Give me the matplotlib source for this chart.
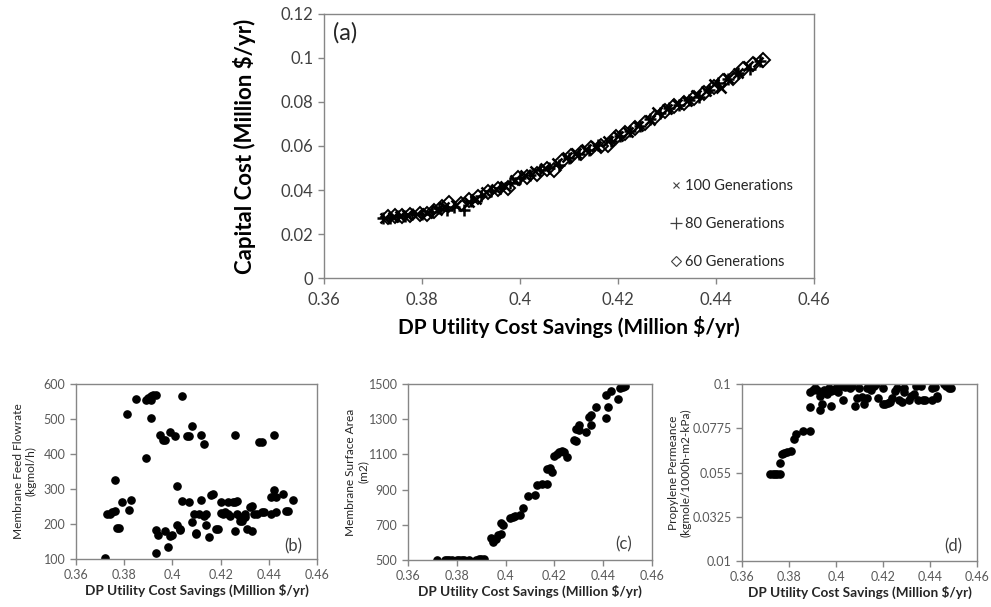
import matplotlib
matplotlib.use("Agg")
import matplotlib.pyplot as plt
from matplotlib.lines import Line2D

plt.rcParams['font.family'] = ['Lato', 'DejaVu Sans']

# ---------------- data ----------------
# (a) Pareto fronts: DP utility cost savings vs capital cost
gen100_x = [0.3725, 0.374, 0.3755, 0.377, 0.379, 0.381, 0.383, 0.3845, 0.387, 0.3895, 0.391,
            0.393, 0.395, 0.397, 0.399, 0.401, 0.403, 0.405, 0.4075, 0.4095, 0.4115, 0.4135,
            0.4155, 0.418, 0.420, 0.422, 0.424, 0.4265, 0.428, 0.430, 0.432, 0.434, 0.436,
            0.438, 0.4395, 0.441, 0.4425, 0.4445, 0.4465, 0.4485]
gen100_y = [0.0275, 0.0278, 0.028, 0.0285, 0.029, 0.0295, 0.031, 0.0325, 0.033, 0.0345, 0.036,
            0.039, 0.0405, 0.042, 0.0445, 0.047, 0.0485, 0.050, 0.0525, 0.055, 0.057, 0.0585,
            0.060, 0.0625, 0.0645, 0.0665, 0.069, 0.072, 0.0755, 0.077, 0.079, 0.0805, 0.083,
            0.085, 0.088, 0.0865, 0.091, 0.093, 0.0965, 0.098]
gen80_x = [0.372, 0.3735, 0.375, 0.3765, 0.378, 0.380, 0.382, 0.3835, 0.385, 0.3865, 0.3885,
           0.390, 0.392, 0.394, 0.396, 0.398, 0.400, 0.402, 0.404, 0.406, 0.408, 0.410,
           0.412, 0.414, 0.416, 0.4185, 0.4205, 0.4225, 0.4245, 0.4265, 0.4285, 0.4305,
           0.4325, 0.4345, 0.4365, 0.4385, 0.4405, 0.4425, 0.4445, 0.447, 0.449]
gen80_y = [0.0275, 0.0272, 0.028, 0.0283, 0.029, 0.0292, 0.030, 0.032, 0.031, 0.0325, 0.031,
           0.035, 0.0375, 0.0395, 0.041, 0.043, 0.0455, 0.047, 0.049, 0.050, 0.0515, 0.0545,
           0.0565, 0.058, 0.0605, 0.0625, 0.0645, 0.067, 0.069, 0.0725, 0.075, 0.0775,
           0.0785, 0.081, 0.0825, 0.0855, 0.0885, 0.0905, 0.093, 0.095, 0.0985]
gen60_x = [0.373, 0.3745, 0.376, 0.3775, 0.3795, 0.381, 0.3825, 0.384, 0.3855, 0.388, 0.3895,
           0.3915, 0.3935, 0.3955, 0.3975, 0.3995, 0.4015, 0.4035, 0.4055, 0.407, 0.4085,
           0.4105, 0.4125, 0.4145, 0.4165, 0.418, 0.4195, 0.4215, 0.4235, 0.4255, 0.4275,
           0.4295, 0.4315, 0.4335, 0.4355, 0.4375, 0.4395, 0.4415, 0.4435, 0.4455, 0.4475,
           0.4495]
gen60_y = [0.0278, 0.028, 0.0282, 0.0288, 0.0292, 0.029, 0.0305, 0.0325, 0.034, 0.0335, 0.0355,
           0.037, 0.039, 0.0405, 0.041, 0.0455, 0.046, 0.0475, 0.0495, 0.049, 0.053,
           0.0555, 0.057, 0.059, 0.060, 0.0605, 0.064, 0.066, 0.068, 0.0705, 0.073,
           0.076, 0.078, 0.0795, 0.082, 0.084, 0.087, 0.0895, 0.091, 0.095, 0.0975,
           0.099]

# (b) membrane feed flowrate
b_x = [0.372, 0.373, 0.374, 0.375, 0.376, 0.376, 0.377, 0.378, 0.379, 0.381, 0.382, 0.383,
       0.385, 0.389, 0.390, 0.391, 0.391, 0.392, 0.393, 0.389, 0.391, 0.393, 0.393, 0.394,
       0.395, 0.396, 0.397, 0.397, 0.398, 0.399, 0.399, 0.400, 0.401, 0.402, 0.402, 0.403,
       0.403, 0.404, 0.404, 0.406, 0.407, 0.407, 0.408, 0.408, 0.409, 0.410, 0.410, 0.411,
       0.412, 0.412, 0.413, 0.413, 0.414, 0.414, 0.415, 0.416, 0.417, 0.418, 0.419, 0.420,
       0.420, 0.421, 0.422, 0.423, 0.423, 0.424, 0.425, 0.426, 0.426, 0.426, 0.427, 0.427,
       0.428, 0.428, 0.429, 0.430, 0.430, 0.431, 0.432, 0.433, 0.433, 0.434, 0.435, 0.436,
       0.437, 0.437, 0.438, 0.441, 0.441, 0.442, 0.442, 0.443, 0.443, 0.446, 0.447, 0.448,
       0.450]
b_y = [102, 228, 230, 235, 238, 325, 190, 188, 263, 515, 240, 268,
       557, 555, 560, 565, 555, 568, 568, 390, 503, 183, 118, 168,
       455, 440, 180, 440, 135, 462, 165, 168, 452, 198, 310, 182,
       185, 566, 267, 452, 452, 262, 480, 205, 230, 175, 172, 230,
       270, 455, 428, 222, 230, 197, 163, 283, 285, 185, 185, 263,
       232, 228, 233, 230, 262, 222, 262, 453, 180, 263, 265, 230,
       220, 210, 208, 220, 230, 185, 248, 180, 252, 230, 230, 433,
       433, 235, 233, 230, 276, 298, 455, 235, 278, 286, 238, 238,
       270]

# (c) membrane surface area
c_x = [0.372, 0.375, 0.376, 0.377, 0.378, 0.380, 0.381, 0.382, 0.383, 0.385, 0.388, 0.389,
       0.390, 0.391, 0.394, 0.395, 0.396, 0.397, 0.398, 0.398, 0.399, 0.402, 0.403, 0.404,
       0.406, 0.407, 0.409, 0.412, 0.413, 0.415, 0.417, 0.417, 0.418, 0.419, 0.420, 0.421,
       0.422, 0.423, 0.424, 0.425, 0.428, 0.429, 0.429, 0.430, 0.430, 0.433, 0.434, 0.435,
       0.435, 0.437, 0.441, 0.441, 0.442, 0.443, 0.446, 0.447, 0.448, 0.449]
c_y = [500, 500, 500, 500, 500, 500, 500, 500, 500, 500, 500, 505,
       505, 505, 625, 605, 620, 640, 645, 710, 700, 740, 745, 750,
       757, 798, 865, 870, 925, 930, 930, 1015, 1025, 1000, 1090, 1100,
       1115, 1120, 1115, 1085, 1180, 1178, 1245, 1240, 1265, 1230, 1315, 1325,
       1265, 1370, 1305, 1440, 1370, 1460, 1415, 1480, 1485, 1490]

# (d) propylene permeance
d_x = [0.372, 0.373, 0.374, 0.375, 0.376, 0.376, 0.377, 0.378, 0.379, 0.381, 0.382, 0.383,
       0.386, 0.389, 0.389, 0.389, 0.390, 0.391, 0.392, 0.393, 0.393, 0.394, 0.395, 0.396,
       0.397, 0.398, 0.398, 0.399, 0.400, 0.401, 0.402, 0.403, 0.404, 0.405, 0.406, 0.407,
       0.408, 0.409, 0.410, 0.411, 0.412, 0.413, 0.413, 0.414, 0.415, 0.416, 0.417, 0.418,
       0.420, 0.420, 0.421, 0.422, 0.423, 0.424, 0.425, 0.426, 0.427, 0.428, 0.429, 0.429,
       0.431, 0.432, 0.433, 0.434, 0.435, 0.436, 0.437, 0.438, 0.441, 0.441, 0.442, 0.443,
       0.443, 0.446, 0.447, 0.448, 0.449]
d_y = [0.054, 0.054, 0.054, 0.054, 0.054, 0.0597, 0.0645, 0.065, 0.0655, 0.066, 0.072, 0.0745,
       0.0762, 0.076, 0.0885, 0.096, 0.097, 0.098, 0.097, 0.087, 0.094, 0.090, 0.097, 0.095,
       0.098, 0.089, 0.0965, 0.097, 0.098, 0.096, 0.099, 0.092, 0.0985, 0.099, 0.098, 0.099,
       0.089, 0.093, 0.098, 0.0935, 0.090, 0.098, 0.093, 0.0995, 0.097, 0.099, 0.100, 0.093,
       0.090, 0.098, 0.090, 0.0905, 0.091, 0.093, 0.0965, 0.098, 0.092, 0.091, 0.096, 0.098,
       0.092, 0.094, 0.095, 0.099, 0.092, 0.099, 0.092, 0.092, 0.092, 0.098, 0.0985, 0.094,
       0.093, 0.100, 0.099, 0.098, 0.098]

x_ticks = [0.36, 0.38, 0.40, 0.42, 0.44, 0.46]
x_ticklabels = ['0.36', '0.38', '0.4', '0.42', '0.44', '0.46']
a_yticks = [0, 0.02, 0.04, 0.06, 0.08, 0.10, 0.12]
a_yticklabels = ['0', '0.02', '0.04', '0.06', '0.08', '0.1', '0.12']
b_yticks = [100, 200, 300, 400, 500, 600]
c_yticks = [500, 700, 900, 1100, 1300, 1500]
d_yticks = [0.01, 0.0325, 0.055, 0.0775, 0.1]
d_yticklabels = ['0.01', '0.0325', '0.055', '0.0775', '0.1']

# ---------------- figure ----------------
W, H = 991, 607
fig = plt.figure(figsize=(W / 100, H / 100), dpi=100)
fig.patch.set_facecolor('white')

def px_axes(l, t, r, b):
    return fig.add_axes([l / W, (H - b) / H, (r - l) / W, (b - t) / H])

SPINE = '#868686'

def style(ax, tick_color, fs):
    for s in ax.spines.values():
        s.set_color(SPINE)
        s.set_linewidth(1.0)
    ax.tick_params(axis='both', which='both', direction='out', length=4, width=1.0,
                   color=SPINE, labelcolor=tick_color, labelsize=fs,
                   top=False, right=False)

# Main (a)
ax = px_axes(324, 14, 814, 278)
mk = dict(color='black', linestyle='none')
h60, = ax.plot(gen60_x, gen60_y, marker='D', ms=7, mew=1.4, mfc='none', **mk)
h80, = ax.plot(gen80_x, gen80_y, marker='+', ms=9, mew=1.8, **mk)
h100, = ax.plot(gen100_x, gen100_y, marker='x', ms=7.5, mew=1.8, **mk)
ax.set_xlim(0.36, 0.46)
ax.set_ylim(0, 0.12)
ax.set_xticks(x_ticks, x_ticklabels)
ax.set_yticks(a_yticks, a_yticklabels)
style(ax, '#404040', 12)
ax.tick_params(axis='x', pad=6)
ax.set_xlabel('DP Utility Cost Savings (Million $/yr)', fontsize=15, fontweight='bold',
              color='black', labelpad=6)
ax.set_ylabel('Capital Cost (Million $/yr)', fontsize=16, fontweight='bold',
              color='black', va='center')
ax.yaxis.set_label_coords((245 - 324) / 490, 0.5)
ax.text(9 / 490, 1 - 19 / 264, '(a)', transform=ax.transAxes, fontsize=17, color='#262626',
        va='center', ha='left')
leg_handles = [
    Line2D([], [], marker='x', color='#404040', ls='none', ms=5, mew=0.8),
    Line2D([], [], marker='+', color='#404040', ls='none', ms=9, mew=0.9),
    Line2D([], [], marker='D', color='#404040', ls='none', ms=5, mew=0.8, mfc='none'),
]
ax.legend(leg_handles, ['100 Generations', '80 Generations', '60 Generations'],
          loc='center left', bbox_to_anchor=(662 / W, (H - 224) / H),
          bbox_transform=fig.transFigure, frameon=False, fontsize=10.5,
          handlelength=0.9, handletextpad=0.15, labelspacing=1.65, borderpad=0,
          labelcolor='#262626')

SUB_TICK = '#595959'
SUB_FS = 9

def sub(ax, xs, ys, ylim, yticks, yticklabels, ylabel, ylab_x, tag, tag_x, tag_y, l, r):
    ax.plot(xs, ys, marker='o', ms=5.2, color='black', ls='none')
    ax.set_xlim(0.36, 0.46)
    ax.set_ylim(*ylim)
    ax.set_xticks(x_ticks, x_ticklabels)
    ax.set_yticks(yticks, yticklabels)
    style(ax, SUB_TICK, SUB_FS)
    ax.set_xlabel('DP Utility Cost Savings (Million $/yr)', fontsize=9.8,
                  fontweight='bold', color='#262626', labelpad=1.5)
    ax.set_ylabel(ylabel, fontsize=8.6, color='#262626', va='center',
                  linespacing=1.15)
    ax.yaxis.set_label_coords((ylab_x - l) / (r - l), 0.5)
    ax.text(tag_x, tag_y, tag, transform=ax.transAxes, fontsize=12, color='#404040',
            ha='right', va='center')

axb = px_axes(76, 384, 317, 559)
sub(axb, b_x, b_y, (100, 600), b_yticks, [str(v) for v in b_yticks],
    'Membrane Feed Flowrate\n(kgmol/h)', 25, '(b)', 0.938, 0.074, 76, 317)

axc = px_axes(408, 384, 652, 560)
sub(axc, c_x, c_y, (500, 1500), c_yticks, [str(v) for v in c_yticks],
    'Membrane Surface Area\n(m2)', 357, '(c)', 0.918, 0.09, 408, 652)

axd = px_axes(742, 384, 977, 561)
sub(axd, d_x, d_y, (0.01, 0.1), d_yticks, d_yticklabels,
    'Propylene Permeance\n(kgmole/1000h-m2-kPa)', 680, '(d)', 0.937, 0.085, 742, 977)

fig.savefig('out.png', dpi=100, facecolor='white')
